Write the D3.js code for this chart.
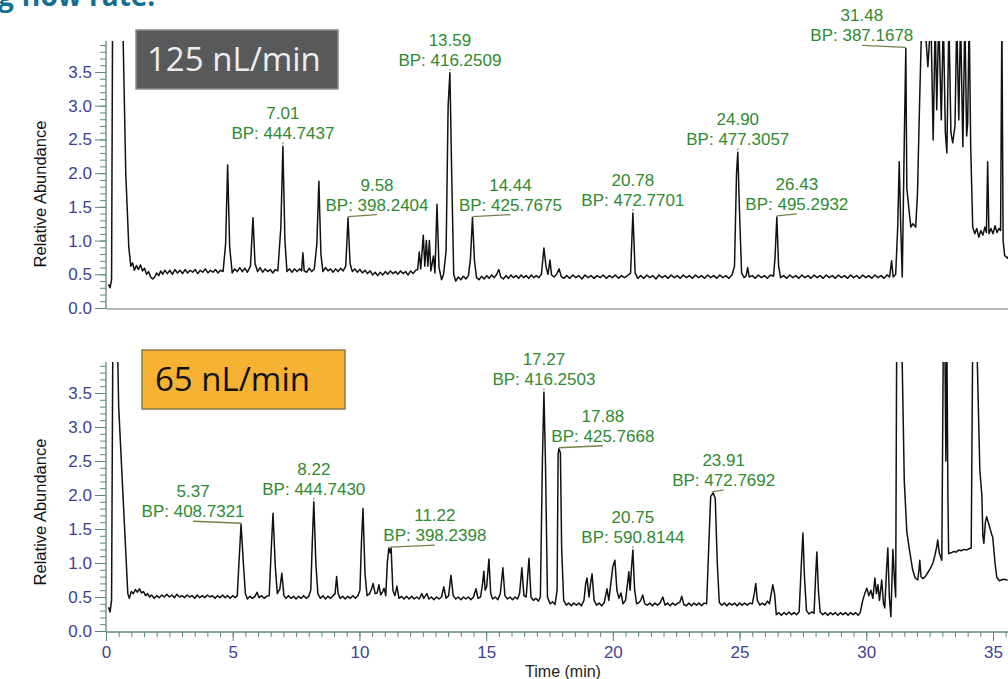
<!DOCTYPE html>
<html>
<head>
<meta charset="utf-8">
<script src="https://cdn.jsdelivr.net/npm/d3@7"></script>
<style>
  body { margin: 0; background: #fff; }
  svg { display: block; font-family: "Liberation Sans", Arial, sans-serif; }
</style>
</head>
<body>
<svg id="chart" width="1008" height="679"></svg>
<script>

// ticks
const xTicks = [0, 5, 10, 15, 20, 25, 30, 35]
const yTicks = [0, 0.5, 1, 1.5, 2, 2.5, 3, 3.5]

// 125 nL/min trace  [time (min), relative abundance]
const trace125 = [
  [0.10,0.35],[0.16,0.30],[0.22,0.42],[0.26,4.30],[0.66,4.30],[0.78,2.00],[0.90,0.90],[0.98,0.62],
  [1.05,0.67],[1.12,0.56],[1.20,0.63],[1.28,0.57],[1.36,0.64],[1.44,0.55],[1.52,0.59],[1.60,0.50],[1.68,0.54],[1.76,0.46],[1.84,0.43],[1.92,0.46],
  [2.00,0.52],[2.08,0.48],[2.16,0.55],[2.24,0.50],[2.32,0.56],[2.42,0.51],[2.52,0.56],[2.62,0.50],[2.72,0.57],[2.82,0.52],[2.92,0.56],
  [3.02,0.51],[3.12,0.57],[3.22,0.52],[3.32,0.56],[3.42,0.53],[3.52,0.57],[3.62,0.51],[3.72,0.56],[3.82,0.53],[3.92,0.58],
  [4.02,0.52],[4.12,0.56],[4.22,0.53],[4.32,0.57],[4.42,0.52],[4.52,0.56],[4.62,0.54],
  [4.72,0.95],[4.80,2.12],[4.88,0.90],[4.98,0.52],[5.08,0.58],[5.18,0.54],[5.28,0.60],[5.38,0.54],[5.48,0.59],[5.58,0.53],
  [5.70,0.62],[5.80,1.34],[5.88,0.66],[5.98,0.54],[6.08,0.60],[6.18,0.53],[6.28,0.58],[6.38,0.54],[6.48,0.57],[6.58,0.52],[6.68,0.57],[6.78,0.55],
  [6.90,1.20],[6.98,2.40],[7.06,1.00],[7.14,0.54],[7.24,0.58],[7.34,0.53],[7.44,0.58],[7.54,0.54],[7.64,0.58],[7.72,0.55],[7.77,0.82],[7.82,0.55],
  [7.92,0.53],[8.02,0.59],[8.12,0.54],[8.22,0.58],
  [8.32,0.95],[8.40,1.88],[8.48,0.80],[8.56,0.54],[8.66,0.60],[8.76,0.55],[8.86,0.58],[8.96,0.53],[9.06,0.58],[9.16,0.54],[9.26,0.59],[9.36,0.55],
  [9.46,0.62],[9.55,1.34],[9.63,0.66],[9.72,0.54],[9.82,0.58],[9.92,0.53],[10.02,0.57],[10.12,0.52],[10.22,0.56],[10.32,0.51],[10.42,0.55],
  [10.52,0.49],[10.62,0.53],[10.72,0.48],[10.82,0.53],[10.92,0.49],[11.02,0.54],[11.12,0.50],[11.22,0.55],[11.32,0.51],[11.42,0.54],[11.52,0.50],
  [11.62,0.55],[11.72,0.51],[11.82,0.54],[11.92,0.49],[12.02,0.55],[12.12,0.51],[12.22,0.56],[12.30,0.57],
  [12.36,0.83],[12.42,0.58],[12.52,1.08],[12.58,0.62],[12.64,1.00],[12.70,0.62],[12.76,1.00],[12.82,0.55],[12.92,0.77],[12.98,0.52],
  [13.06,1.54],[13.14,0.60],[13.24,0.42],[13.32,0.50],[13.42,0.85],[13.50,3.00],[13.57,3.49],[13.64,2.00],[13.72,0.50],[13.80,0.40],
  [13.90,0.46],[14.00,0.42],[14.10,0.47],[14.20,0.43],[14.30,0.48],
  [14.38,0.72],[14.46,1.34],[14.54,0.70],[14.62,0.45],[14.72,0.42],[14.82,0.47],[14.92,0.43],[15.02,0.48],[15.12,0.44],[15.22,0.49],
  [15.32,0.45],[15.42,0.50],[15.50,0.57],[15.58,0.46],[15.68,0.43],[15.78,0.48],[15.88,0.44],[15.98,0.49],[16.08,0.45],[16.18,0.48],
  [16.28,0.44],[16.38,0.49],[16.48,0.45],[16.58,0.48],[16.68,0.44],[16.78,0.49],[16.88,0.45],[16.98,0.48],[17.08,0.45],[17.18,0.50],
  [17.28,0.89],[17.36,0.62],[17.44,0.50],[17.52,0.71],[17.58,0.49],[17.68,0.46],[17.78,0.50],[17.88,0.58],[17.96,0.47],[18.06,0.44],
  [18.18,0.48],[18.30,0.44],[18.42,0.49],[18.54,0.45],[18.66,0.48],[18.78,0.43],[18.90,0.49],[19.02,0.45],[19.14,0.48],[19.26,0.44],
  [19.38,0.48],[19.50,0.45],[19.62,0.49],[19.74,0.44],[19.86,0.48],[19.98,0.45],[20.10,0.49],[20.22,0.44],[20.34,0.48],[20.46,0.45],
  [20.58,0.48],[20.70,0.52],[20.79,1.41],[20.88,0.52],[20.98,0.44],[21.10,0.48],[21.22,0.44],[21.34,0.49],[21.46,0.45],[21.58,0.48],
  [21.70,0.43],[21.82,0.49],[21.94,0.45],[22.06,0.48],[22.18,0.44],[22.30,0.49],[22.42,0.45],[22.54,0.48],[22.66,0.44],[22.78,0.49],
  [22.90,0.45],[23.02,0.48],[23.14,0.44],[23.26,0.49],[23.38,0.45],[23.50,0.48],[23.62,0.44],[23.74,0.49],[23.86,0.45],[23.98,0.48],
  [24.10,0.44],[24.22,0.49],[24.34,0.45],[24.46,0.48],[24.58,0.44],[24.70,0.49],[24.80,0.62],
  [24.88,2.00],[24.93,2.31],[25.00,1.40],[25.08,0.52],[25.18,0.45],[25.26,0.48],[25.32,0.60],[25.38,0.46],[25.50,0.48],[25.62,0.44],
  [25.74,0.49],[25.86,0.45],[25.98,0.48],[26.10,0.44],[26.22,0.49],[26.34,0.47],
  [26.40,0.75],[26.47,1.35],[26.54,0.62],[26.62,0.45],[26.74,0.48],[26.86,0.44],[26.98,0.49],[27.10,0.45],[27.22,0.48],[27.34,0.44],
  [27.46,0.49],[27.58,0.45],[27.70,0.48],[27.82,0.44],[27.94,0.49],[28.06,0.45],[28.18,0.48],[28.30,0.44],[28.42,0.49],[28.54,0.45],
  [28.66,0.48],[28.78,0.44],[28.90,0.49],[29.02,0.45],[29.14,0.48],[29.26,0.44],[29.38,0.49],[29.50,0.45],[29.62,0.48],[29.74,0.44],
  [29.86,0.49],[29.98,0.45],[30.10,0.48],[30.22,0.44],[30.34,0.49],[30.46,0.45],[30.58,0.48],[30.70,0.44],[30.82,0.49],[30.92,0.46],
  [31.00,0.70],[31.06,0.46],[31.16,0.50],[31.24,1.20],[31.30,2.17],[31.36,1.20],[31.42,0.46],[31.50,2.50],[31.56,3.85],[31.60,1.78],
  [31.70,1.40],[31.76,1.20],[31.84,1.25],[31.95,1.20],[32.02,1.70],[32.10,3.00],[32.19,4.30],[32.30,4.30],[32.43,3.58],[32.55,4.30],
  [32.64,2.49],[32.72,4.30],[32.78,2.94],[32.86,4.30],[32.96,2.79],[33.04,4.30],[33.12,2.60],[33.18,2.30],[33.26,4.30],[33.34,2.60],
  [33.41,2.45],[33.50,2.70],[33.57,4.30],[33.65,2.79],[33.72,4.30],[33.81,2.39],[33.89,4.30],[33.96,2.55],[34.00,2.74],[34.06,4.30],
  [34.12,2.39],[34.20,1.20],[34.28,1.10],[34.36,1.18],[34.44,1.05],[34.52,1.15],[34.60,1.08],[34.68,1.20],[34.74,1.12],[34.79,2.17],
  [34.84,1.10],[34.92,1.18],[35.00,1.10],[35.08,1.22],[35.16,1.12],[35.24,1.18],[35.30,1.15],[35.35,4.30],[35.40,1.00],[35.46,0.78],
  [35.56,0.74],[35.70,0.80]
]

// 65 nL/min trace
const trace65 = [
  [0.10,0.35],[0.16,0.28],[0.22,0.45],[0.27,4.30],[0.45,4.30],[0.50,3.30],[0.86,0.55],[0.92,0.48],[1.00,0.58],[1.08,0.55],
  [1.16,0.61],[1.24,0.57],[1.32,0.62],[1.40,0.56],[1.48,0.58],[1.56,0.52],[1.64,0.55],[1.72,0.50],[1.80,0.53],[1.90,0.48],
  [2.00,0.52],[2.10,0.49],[2.20,0.53],[2.30,0.50],[2.40,0.54],[2.50,0.50],[2.60,0.53],[2.70,0.49],[2.80,0.54],[2.90,0.50],
  [3.00,0.52],[3.10,0.49],[3.20,0.53],[3.30,0.50],[3.40,0.52],[3.50,0.48],[3.60,0.53],[3.70,0.49],[3.80,0.52],[3.90,0.49],
  [4.00,0.53],[4.10,0.50],[4.20,0.52],[4.30,0.48],[4.40,0.52],[4.50,0.49],[4.60,0.53],[4.70,0.49],[4.80,0.52],[4.90,0.48],
  [5.00,0.52],[5.10,0.49],[5.18,0.52],
  [5.26,1.10],[5.33,1.57],[5.42,1.00],[5.50,0.55],[5.58,0.47],[5.68,0.51],[5.78,0.48],[5.88,0.51],[5.96,0.57],[6.04,0.49],
  [6.14,0.52],[6.24,0.48],[6.34,0.51],[6.44,0.52],
  [6.52,1.20],[6.59,1.73],[6.68,0.95],[6.76,0.55],[6.86,0.62],[6.94,0.85],[7.02,0.52],[7.10,0.48],[7.20,0.52],[7.30,0.48],
  [7.40,0.51],[7.50,0.47],[7.60,0.51],[7.70,0.48],[7.80,0.52],[7.90,0.48],[8.00,0.51],[8.08,0.60],
  [8.14,1.30],[8.20,1.90],[8.28,1.00],[8.36,0.55],[8.46,0.48],[8.56,0.52],[8.66,0.47],[8.76,0.51],[8.86,0.48],[8.96,0.52],
  [9.04,0.55],[9.10,0.80],[9.16,0.55],[9.24,0.48],[9.34,0.51],[9.44,0.47],[9.54,0.51],[9.64,0.48],[9.74,0.52],[9.84,0.48],
  [9.94,0.52],[10.02,0.60],
  [10.08,1.30],[10.14,1.80],[10.22,0.85],[10.30,0.52],[10.40,0.55],[10.48,0.62],[10.54,0.70],[10.62,0.55],[10.70,0.56],[10.77,0.68],
  [10.84,0.53],[10.92,0.58],[10.97,0.63],[11.04,0.52],[11.10,1.00],[11.16,1.22],[11.21,1.15],[11.25,1.22],[11.32,0.60],[11.40,0.52],
  [11.48,0.66],[11.56,0.48],[11.66,0.51],[11.76,0.47],[11.86,0.51],[11.96,0.47],[12.06,0.51],[12.16,0.47],[12.26,0.50],[12.36,0.47],
  [12.46,0.55],[12.54,0.48],[12.66,0.55],[12.74,0.47],[12.84,0.50],[12.94,0.46],[13.04,0.50],[13.14,0.47],[13.24,0.50],[13.33,0.65],
  [13.42,0.48],[13.52,0.52],[13.61,0.82],[13.70,0.52],[13.80,0.47],[13.90,0.50],[14.00,0.46],[14.10,0.50],[14.20,0.47],[14.30,0.50],
  [14.40,0.46],[14.50,0.50],[14.60,0.62],[14.68,0.48],[14.78,0.50],[14.86,0.70],[14.91,0.88],[14.96,0.60],[15.02,0.65],[15.11,1.06],
  [15.18,0.55],[15.26,0.47],[15.36,0.50],[15.46,0.46],[15.56,0.55],[15.66,0.93],[15.74,0.52],[15.84,0.47],[15.94,0.50],[16.04,0.46],
  [16.14,0.50],[16.24,0.47],[16.32,0.55],[16.41,0.93],[16.49,0.52],[16.58,0.50],[16.69,1.07],[16.77,0.50],[16.86,0.45],[16.96,0.48],
  [17.06,0.44],[17.14,0.50],
  [17.22,2.50],[17.28,3.51],[17.34,2.50],[17.42,0.50],[17.52,0.40],[17.62,0.43],[17.72,0.39],[17.80,0.60],[17.84,2.60],[17.87,2.68],
  [17.93,2.62],[17.98,1.20],[18.06,0.45],[18.16,0.38],[18.26,0.41],[18.36,0.37],[18.46,0.41],[18.56,0.38],[18.66,0.41],[18.76,0.37],
  [18.86,0.45],[18.93,0.70],[18.98,0.78],[19.06,0.50],[19.12,0.70],[19.18,0.84],[19.26,0.45],[19.36,0.38],[19.46,0.41],[19.56,0.37],
  [19.66,0.42],[19.77,0.62],[19.84,0.45],[19.92,0.70],[20.00,0.95],[20.08,1.04],[20.16,0.60],[20.24,0.48],[20.32,0.56],[20.40,0.40],
  [20.50,0.45],[20.58,0.70],[20.63,0.87],[20.68,0.60],[20.74,0.95],[20.79,1.19],[20.86,0.60],[20.94,0.40],[21.04,0.42],[21.10,0.45],
  [21.18,0.53],[21.26,0.40],[21.36,0.38],[21.46,0.41],[21.56,0.37],[21.66,0.41],[21.76,0.38],[21.86,0.41],[21.97,0.50],[22.06,0.38],
  [22.16,0.41],[22.26,0.37],[22.36,0.41],[22.46,0.38],[22.56,0.41],[22.64,0.42],[22.72,0.51],[22.80,0.39],[22.90,0.37],[23.00,0.41],
  [23.10,0.37],[23.20,0.41],[23.30,0.38],[23.40,0.41],[23.50,0.37],[23.60,0.41],[23.70,0.40],
  [23.80,1.40],[23.86,1.98],[23.96,2.03],[24.04,1.95],[24.12,1.00],[24.20,0.42],[24.30,0.38],[24.40,0.41],[24.50,0.37],[24.60,0.41],
  [24.70,0.38],[24.80,0.41],[24.90,0.37],[25.00,0.41],[25.10,0.38],[25.20,0.41],[25.30,0.38],[25.40,0.41],[25.50,0.40],[25.58,0.55],
  [25.64,0.70],[25.70,0.45],[25.80,0.38],[25.90,0.41],[26.00,0.38],[26.10,0.44],[26.18,0.40],[26.25,0.55],[26.31,0.68],[26.38,0.55],
  [26.45,0.24],[26.55,0.27],[26.65,0.23],[26.75,0.27],[26.85,0.24],[26.95,0.28],[27.05,0.24],[27.15,0.27],[27.25,0.24],[27.35,0.28],
  [27.44,1.00],[27.50,1.44],[27.56,0.80],[27.64,0.30],[27.74,0.25],[27.84,0.28],[27.94,0.26],[28.00,0.80],[28.05,1.16],[28.11,0.60],
  [28.18,0.28],[28.28,0.24],[28.38,0.27],[28.48,0.23],[28.58,0.27],[28.68,0.24],[28.78,0.27],[28.88,0.23],[28.98,0.27],[29.08,0.24],
  [29.18,0.27],[29.28,0.23],[29.38,0.27],[29.48,0.24],[29.58,0.27],[29.68,0.23],[29.76,0.27],
  [29.86,0.45],[29.94,0.55],[30.02,0.63],[30.10,0.52],[30.18,0.60],[30.26,0.48],[30.34,0.78],[30.40,0.55],[30.46,0.68],[30.52,0.45],
  [30.61,0.75],[30.68,0.40],[30.73,0.34],[30.80,0.90],[30.85,1.22],[30.91,0.50],[30.97,0.21],[31.05,1.20],[31.12,0.70],[31.16,0.50],
  [31.20,4.30],[31.40,4.30],[31.50,2.20],[31.60,1.46],[31.70,1.20],[31.83,0.90],[31.93,0.78],[32.03,0.75],[32.08,0.90],[32.11,1.04],
  [32.16,0.80],[32.23,0.77],[32.33,0.80],[32.43,0.86],[32.53,0.92],[32.63,1.00],[32.70,1.10],[32.78,1.24],[32.82,1.34],[32.88,1.15],
  [32.98,1.04],[33.04,4.30],[33.10,4.30],[33.14,2.50],[33.18,4.30],[33.22,2.00],[33.25,1.14],[33.35,1.15],[33.45,1.17],[33.55,1.16],
  [33.65,1.19],[33.75,1.18],[33.85,1.20],[33.95,1.19],[34.05,1.21],[34.14,1.22],[34.20,4.30],[34.36,4.30],[34.44,3.00],[34.48,2.37],
  [34.56,2.00],[34.60,1.40],[34.64,1.29],[34.70,1.60],[34.75,1.68],[34.85,1.55],[34.95,1.42],[34.99,1.38],[35.08,1.00],[35.15,0.79],
  [35.25,0.74],[35.40,0.76],[35.58,0.75]
]

// labelled peaks, 125 nL/min
const peakTime125 = [6.98, 9.55, 13.57, 14.46, 20.79, 24.93, 26.47, 31.56]
const peakHeight125 = [2.40, 1.34, 3.49, 1.34, 1.41, 2.31, 1.35, 3.85]
const peakRT125 = ["7.01", "9.58", "13.59", "14.44", "20.78", "24.90", "26.43", "31.48"]
const peakBP125 = ["444.7437", "398.2404", "416.2509", "425.7675", "472.7701", "477.3057", "495.2932", "387.1678"]

// labelled peaks, 65 nL/min
const peakTime65 = [5.33, 8.20, 11.20, 17.28, 17.87, 20.79, 23.90]
const peakHeight65 = [1.57, 1.90, 1.22, 3.51, 2.68, 1.19, 2.03]
const peakRT65 = ["5.37", "8.22", "11.22", "17.27", "17.88", "20.75", "23.91"]
const peakBP65 = ["408.7321", "444.7430", "398.2398", "416.2503", "425.7668", "590.8144", "472.7692"]

// label shift in px (layout only)
const labelDx125 = [0, 29, 0, 38, 0, 0, 20, -44]
const labelDx65 = [-48, 0, 45, 0, 44, 0, 12]

const axisColor = "#5b8782"
const tickColor = "#3f3f91"
const annColor = "#2f8a2f"
const leadColor = "#74814a"

const svg = d3.select("#chart")

const x = d3.scaleLinear().domain([0, 35]).range([106, 993])

const panels = [
  { label: "125 nL/min", trace: trace125, t: peakTime125, h: peakHeight125, rt: peakRT125, bp: peakBP125, dx: labelDx125,
    top: 41, y0: 308, y35: 72, yMid: 194, box: [136, 30, 202, 59], boxFill: "#58595b", boxStroke: "#8c8c8c", txtFill: "#ededed", xAxis: false },
  { label: "65 nL/min", trace: trace65, t: peakTime65, h: peakHeight65, rt: peakRT65, bp: peakBP65, dx: labelDx65,
    top: 362, y0: 631, y35: 393, yMid: 512, box: [142, 350, 203, 59], boxFill: "#f6b233", boxStroke: "#8c7a52", txtFill: "#111", xAxis: true }
]

// title, cut at the top
svg.append("text")
  .attr("x", -2).attr("y", 6)
  .style("font-family", "'Open Sans', sans-serif")
  .style("font-weight", 700).style("font-size", "28px")
  .attr("fill", "#136f8d")
  .text("g flow rate:")

panels.forEach((p, pi) => {

  const y = d3.scaleLinear().domain([0, 3.5]).range([p.y0, p.y35])

  // clip
  svg.append("clipPath").attr("id", "clip" + pi)
    .append("rect")
    .attr("x", 106).attr("y", p.top)
    .attr("width", 1008 - 106).attr("height", p.y0 - p.top)

  // minor y ticks
  svg.append("g")
    .attr("transform", "translate(106,0)")
    .attr("color", axisColor)
    .call(d3.axisLeft(y).tickValues(d3.range(0, 3.95, 0.1)).tickSize(6).tickSizeOuter(0).tickFormat(""))
    .call(g => g.select(".domain").remove())

  // major y ticks
  const ya = svg.append("g")
    .attr("transform", "translate(106,0)")
    .attr("color", axisColor)
    .call(d3.axisLeft(y).tickValues(yTicks).tickSize(11).tickSizeOuter(0).tickPadding(3).tickFormat(d3.format(".1f")))
    .call(g => g.select(".domain").remove())
  ya.selectAll("text")
    .attr("fill", tickColor)
    .style("font-size", "17px")

  // axis lines
  svg.append("line")
    .attr("x1", 106).attr("x2", 106)
    .attr("y1", p.top).attr("y2", p.y0)
    .attr("stroke", axisColor).attr("stroke-width", 1.3)
  svg.append("line")
    .attr("x1", 106).attr("x2", 1008)
    .attr("y1", p.y0 + 1).attr("y2", p.y0 + 1)
    .attr("stroke", p.xAxis ? axisColor : "#9aa6a4").attr("stroke-width", 1.3)

  if (p.xAxis) {
    svg.append("g")
      .attr("transform", `translate(0,${p.y0 + 1})`)
      .attr("color", axisColor)
      .call(d3.axisBottom(x).tickValues(d3.range(0, 35.6, 0.5)).tickSize(5).tickSizeOuter(0).tickFormat(""))
      .call(g => g.select(".domain").remove())
    const xa = svg.append("g")
      .attr("transform", `translate(0,${p.y0 + 1})`)
      .attr("color", axisColor)
      .call(d3.axisBottom(x).tickValues(xTicks).tickSize(9).tickSizeOuter(0).tickPadding(5))
      .call(g => g.select(".domain").remove())
    xa.selectAll("text")
      .attr("fill", tickColor)
      .style("font-size", "17px")

    // axis title sits on the bottom edge, as in the source
    svg.append("text")
      .attr("x", 563).attr("y", 677)
      .attr("text-anchor", "middle")
      .style("font-size", "16px")
      .attr("fill", "#222")
      .text("Time (min)")
  }

  // y label
  svg.append("text")
    .attr("transform", `translate(46,${p.yMid}) rotate(-90)`)
    .attr("text-anchor", "middle")
    .style("font-size", "16.5px")
    .attr("fill", "#111")
    .text("Relative Abundance")

  // trace
  const line = d3.line()
    .x(d => x(d[0]))
    .y(d => y(d[1]))

  svg.append("path")
    .datum(p.trace)
    .attr("clip-path", `url(#clip${pi})`)
    .attr("d", line)
    .attr("fill", "none")
    .attr("stroke", "#111")
    .attr("stroke-width", 1.5)
    .attr("stroke-linejoin", "round")

  // peak labels
  const ann = svg.append("g")
  p.t.forEach((t, i) => {
    const px = x(t), py = y(p.h[i]), tx = px + p.dx[i]
    if (p.dx[i] !== 0) {
      ann.append("line")
        .attr("x1", px).attr("y1", py - 1)
        .attr("x2", tx).attr("y2", py - 3)
        .attr("stroke", leadColor).attr("stroke-width", 1.3)
    } else {
      ann.append("line")
        .attr("x1", px).attr("y1", py - 2)
        .attr("x2", px).attr("y2", py - 4)
        .attr("stroke", leadColor).attr("stroke-width", 1)
    }
    ann.append("text")
      .attr("x", tx).attr("y", py - 27)
      .attr("text-anchor", "middle")
      .style("font-size", "17px")
      .attr("fill", annColor)
      .text(p.rt[i])
    ann.append("text")
      .attr("x", tx).attr("y", py - 7)
      .attr("text-anchor", "middle")
      .style("font-size", "17px")
      .attr("fill", annColor)
      .text("BP: " + p.bp[i])
  })

  // flow rate box
  svg.append("rect")
    .attr("x", p.box[0]).attr("y", p.box[1])
    .attr("width", p.box[2]).attr("height", p.box[3])
    .attr("fill", p.boxFill)
    .attr("stroke", p.boxStroke).attr("stroke-width", 1.5)
  svg.append("text")
    .attr("x", p.box[0] + (pi ? 13 : 11)).attr("y", p.box[1] + 41)
    .style("font-family", "'Open Sans', sans-serif")
    .style("font-size", "33px")
    .attr("fill", p.txtFill)
    .text(p.label)
})

</script>
</body>
</html>
